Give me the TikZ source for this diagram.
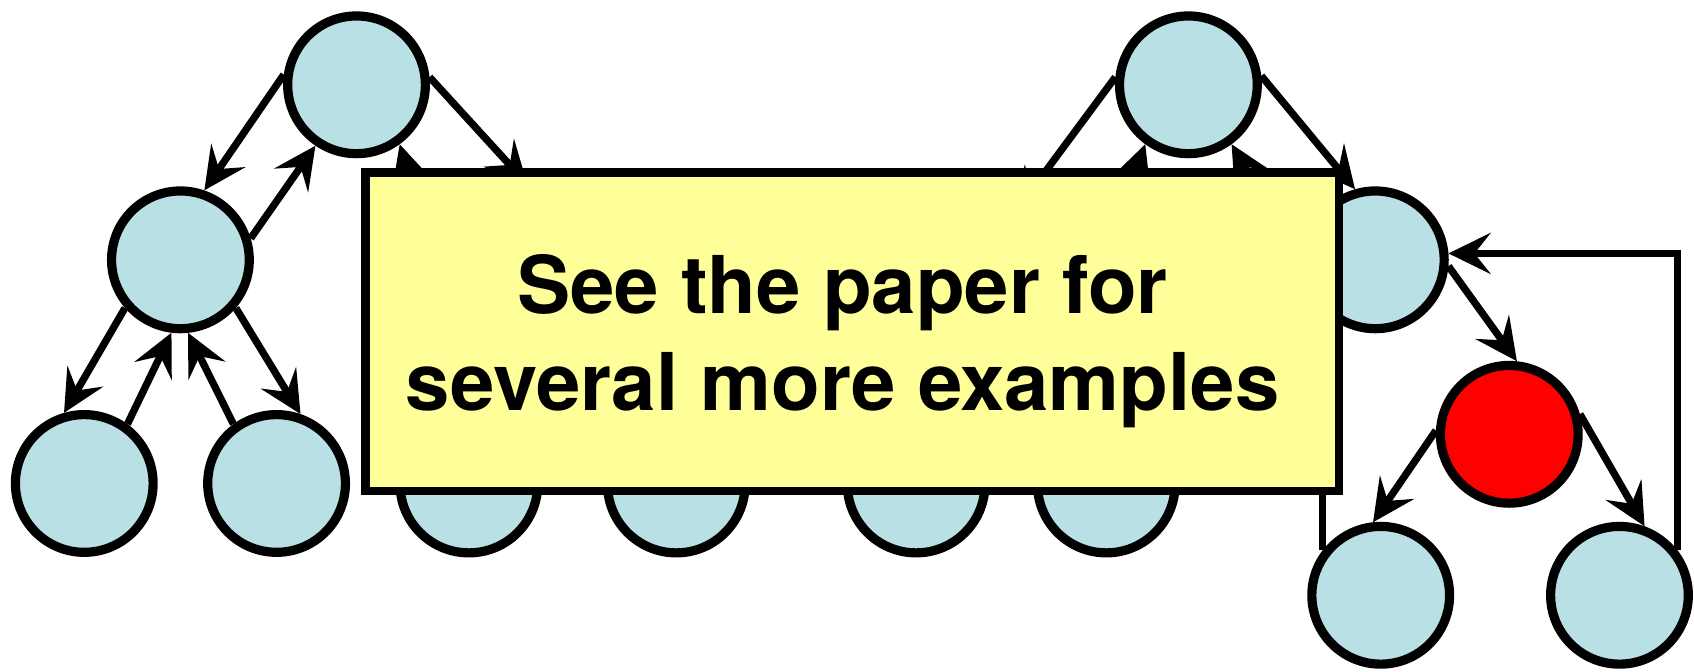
\documentclass[tikz,border=0pt]{standalone}
\usepackage{fontspec}
\setmainfont{TeX Gyre Heros}
\usetikzlibrary{arrows.meta}
\definecolor{nodeblue}{RGB}{185,224,228}
\definecolor{boxyellow}{RGB}{255,255,153}
\begin{document}
\begin{tikzpicture}[x=0.02cm,y=-0.02cm,
  vertex/.style={circle, draw=black, line width=0.17cm, fill=nodeblue, minimum size=2.55cm, inner sep=0pt},
  hot/.style={vertex, fill=red},
  edge/.style={line width=0.135cm, -{Stealth[length=0.78cm,width=0.76cm,inset=0.3cm]}},
  plain/.style={line width=0.135cm},
  note/.style={draw=black, line width=0.16cm, fill=boxyellow, inner sep=0pt, minimum width=18.02cm, minimum height=5.9cm},
  msg/.style={inner sep=0pt, align=center, font=\fontsize{42}{51.2}\selectfont\bfseries}
]
\useasboundingbox (0,0) rectangle (1568,622);
% left tree
\node[vertex] (A) at (330,78.5) {};
\node[vertex] (B) at (167,240.5) {};
\node[vertex] (C) at (78,447.5) {};
\node[vertex] (D) at (256,447.5) {};
\node[vertex] (N1) at (452,228) {};
\node[vertex] (E) at (434,448) {};
\node[vertex] (F) at (626,448) {};
% right tree
\node[vertex] (I) at (1100,78.5) {};
\node[vertex] (N2) at (987,245) {};
\node[vertex] (G) at (848,448) {};
\node[vertex] (H) at (1024,448) {};
\node[vertex] (J) at (1273,240.5) {};
\node[hot] (K) at (1397,402) {};
\node[vertex] (L) at (1278,551) {};
\node[vertex] (M) at (1499,551) {};
\coordinate (lup) at (1224,380);
% connectors left
\draw[edge] (A.172.6) -- (B.71);
\draw[edge] (B.17) -- (A.236);
\draw[edge] (A.6) -- (N1.58.5);
\draw[edge] (N1.156) -- (A.306);
\draw[edge] (B.221.6) -- (C.106.6);
\draw[edge] (C.54.2) -- (B.263.3);
\draw[edge] (D.126) -- (B.276.7);
\draw[edge] (B.319.5) -- (D.71.6);
% connectors right
\draw[edge] (I.174) -- (N2.133.8);
\draw[edge] (N2.43.5) -- (I.234.6);
\draw[edge] (J.185) -- (I.306);
\draw[edge] (I.7.4) -- (J.106.6);
\draw[edge] (J.355) -- (K.84);
\draw[edge] (K.177.5) -- (L.96);
\draw[edge] (K.16.4) -- (M.70);
\draw[edge] (M.38) |- (J.5);
\draw[plain] (L.142) -- (L.142 |- lup);
% note box
\node[note] (box) at (789,307) {};
\node[msg] (text) at (780,316) {See the paper for\\several more examples};
\end{tikzpicture}
\end{document}
